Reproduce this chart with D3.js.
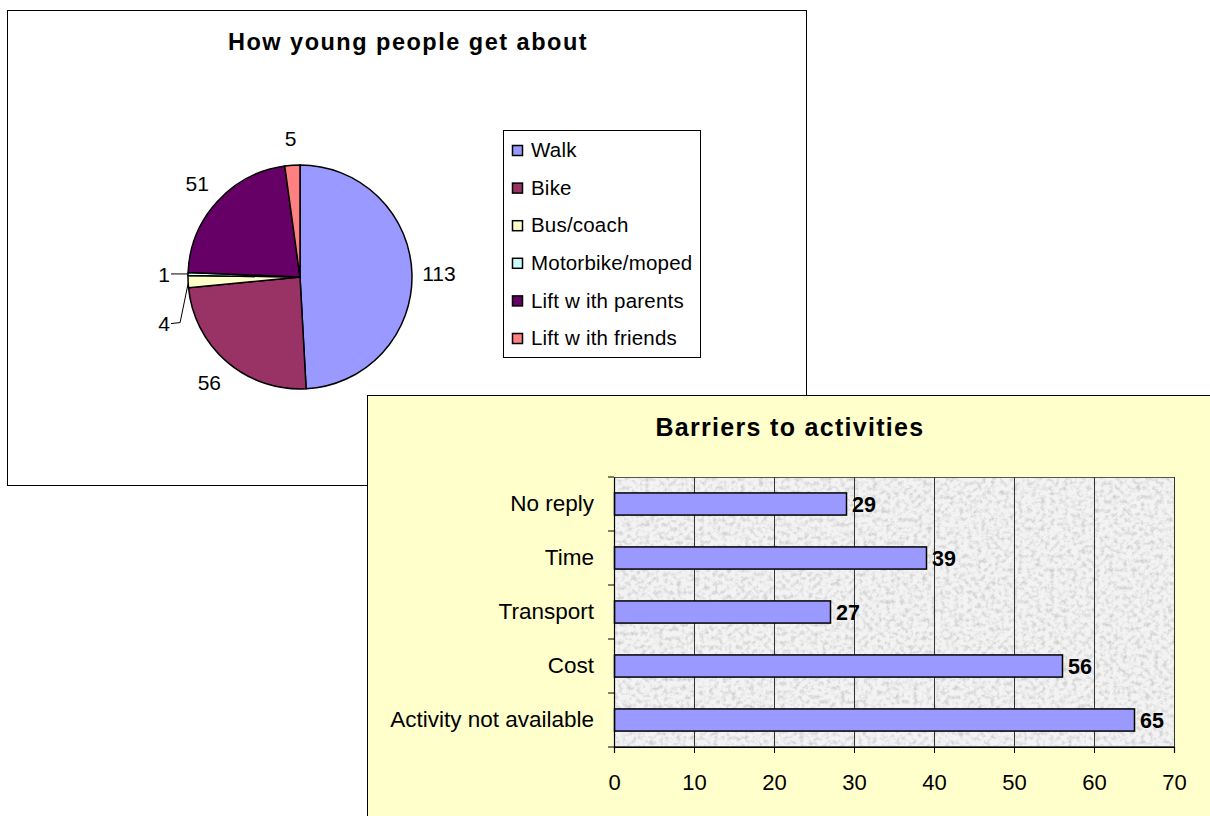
<!DOCTYPE html>
<html>
<head>
<meta charset="utf-8">
<script src="https://cdn.jsdelivr.net/npm/d3@7"></script>
<style>
  body { margin: 0; background: #fff; }
  svg { display: block; font-family: "Liberation Sans", Arial, sans-serif; }
</style>
</head>
<body>
<div id="chart"></div>
<script>
// pie data
var modes = ["Walk", "Bike", "Bus/coach", "Motorbike/moped", "Lift w ith parents", "Lift w ith friends"];
var modeCounts = [113, 56, 4, 1, 51, 5];
var modeColors = ["#9999FF", "#993366", "#FFFFCC", "#CCFFFF", "#660066", "#FF8080"];

// bar data
var barriers = ["No reply", "Time", "Transport", "Cost", "Activity not available"];
var barrierCounts = [29, 39, 27, 56, 65];
var xTicks = [0, 10, 20, 30, 40, 50, 60, 70];

var svg = d3.select("#chart").append("svg")
    .attr("width", 1210)
    .attr("height", 816);

// grainy grey fill for the bar plot area
var defs = svg.append("defs");
var noise = defs.append("filter").attr("id", "grain")
    .attr("x", 0).attr("y", 0).attr("width", 1).attr("height", 1);
noise.append("feTurbulence")
    .attr("type", "fractalNoise")
    .attr("baseFrequency", 0.22)
    .attr("numOctaves", 4)
    .attr("seed", 11);
noise.append("feColorMatrix")
    .attr("type", "matrix")
    .attr("values", "0 0 0 0 0.62  0 0 0 0 0.62  0 0 0 0 0.62  2.4 0 0 0 -1.05");
noise.append("feComposite").attr("in2", "SourceGraphic").attr("operator", "in");

/* ---------- pie panel ---------- */
var pie = svg.append("g").attr("class", "pie-panel");
pie.append("rect")
    .attr("x", 7.5).attr("y", 10.5)
    .attr("width", 799).attr("height", 475)
    .attr("fill", "#fff").attr("stroke", "#000");

pie.append("text")
    .attr("x", 408).attr("y", 50)
    .attr("text-anchor", "middle")
    .attr("font-size", 23.5).attr("font-weight", "bold")
    .attr("letter-spacing", 1.5)
    .text("How young people get about");

var cx = 300, cy = 277, r = 112;
var slices = d3.pie().sort(null)(modeCounts);

var arc = d3.arc().innerRadius(0).outerRadius(r);
var pg = pie.append("g").attr("transform", "translate(" + cx + "," + cy + ")");
pg.selectAll("path.slice")
    .data(slices)
    .enter().append("path")
    .attr("class", "slice")
    .attr("d", arc)
    .attr("fill", function (d, i) { return modeColors[i]; })
    .attr("stroke", "#000")
    .attr("stroke-width", 1.5);

var labelArc = d3.arc().innerRadius(r + 27).outerRadius(r + 27);
slices.forEach(function (d, i) {
    var mid = (d.startAngle + d.endAngle) / 2;
    if (d.value >= 5) {
        var c = labelArc.centroid(d);
        pg.append("text")
            .attr("x", c[0]).attr("y", c[1])
            .attr("dy", "0.35em")
            .attr("text-anchor", "middle")
            .attr("font-size", 21)
            .text(d.value);
    } else {
        // tiny slices: label out to the left with a leader line
        var ex = r * Math.sin(mid), ey = -r * Math.cos(mid);
        var drop = modes[i] === "Bus/coach" ? 41 : 0;
        var lx = -r - 17, ly = ey + drop;
        var pts = drop ? [[ex, ey + 2], [ex - 8, ly], [lx, ly + 1]] : [[ex, ey], [lx, ey]];
        pg.append("path")
            .attr("d", d3.line()(pts))
            .attr("fill", "none").attr("stroke", "#000").attr("stroke-width", 1);
        pg.append("text")
            .attr("x", lx - 1).attr("y", ly + 1)
            .attr("dy", "0.35em")
            .attr("text-anchor", "end")
            .attr("font-size", 21)
            .text(d.value);
    }
});

// legend
var lg = pie.append("g").attr("class", "legend");
lg.append("rect")
    .attr("x", 503.5).attr("y", 130.5)
    .attr("width", 197).attr("height", 227)
    .attr("fill", "#fff").attr("stroke", "#000");
var rows = lg.selectAll("g.row")
    .data(modes)
    .enter().append("g")
    .attr("class", "row")
    .attr("transform", function (d, i) { return "translate(0," + (150 + i * 37.6) + ")"; });
rows.append("rect")
    .attr("x", 512.5).attr("y", -4.5)
    .attr("width", 10).attr("height", 10)
    .attr("fill", function (d, i) { return modeColors[i]; })
    .attr("stroke", "#000").attr("stroke-width", 1.5);
rows.append("text")
    .attr("x", 531).attr("y", 0)
    .attr("dy", "0.35em")
    .attr("font-size", 20.5)
    .attr("letter-spacing", 0.2)
    .text(function (d) { return d; });

/* ---------- bar panel ---------- */
var bp = svg.append("g").attr("class", "bar-panel");
bp.append("rect")
    .attr("x", 367.5).attr("y", 395.5)
    .attr("width", 860).attr("height", 440)
    .attr("fill", "#FFFFCC").attr("stroke", "#000");

bp.append("text")
    .attr("x", 790).attr("y", 436)
    .attr("text-anchor", "middle")
    .attr("font-size", 25).attr("font-weight", "bold")
    .attr("letter-spacing", 1.3)
    .text("Barriers to activities");

var x = d3.scaleLinear().domain([0, 70]).range([614, 1174]);
var y = d3.scaleBand().domain(barriers).range([477, 747])
    .paddingInner(0.59).paddingOuter(0.295);

bp.append("rect")
    .attr("x", x(0)).attr("y", 477)
    .attr("width", x(70) - x(0)).attr("height", 270)
    .attr("fill", "#F3F3F3");
bp.append("rect")
    .attr("x", x(0)).attr("y", 477)
    .attr("width", x(70) - x(0)).attr("height", 270)
    .attr("fill", "#fff")
    .attr("filter", "url(#grain)");
bp.append("rect")
    .attr("x", x(0) + 0.5).attr("y", 477.5)
    .attr("width", x(70) - x(0)).attr("height", 269)
    .attr("fill", "none").attr("stroke", "#555");

bp.append("g").selectAll("line")
    .data(xTicks.slice(1))
    .enter().append("line")
    .attr("x1", function (d) { return Math.round(x(d)) + 0.5; })
    .attr("x2", function (d) { return Math.round(x(d)) + 0.5; })
    .attr("y1", 477).attr("y2", 747)
    .attr("stroke", "#333").attr("stroke-width", 1);

bp.selectAll("rect.bar")
    .data(barrierCounts)
    .enter().append("rect")
    .attr("class", "bar")
    .attr("x", x(0) + 0.5)
    .attr("y", function (d, i) { return y(barriers[i]); })
    .attr("width", function (d) { return x(d) - x(0); })
    .attr("height", y.bandwidth())
    .attr("fill", "#9999FF")
    .attr("stroke", "#000").attr("stroke-width", 1.5);

bp.selectAll("text.val")
    .data(barrierCounts)
    .enter().append("text")
    .attr("class", "val")
    .attr("x", function (d) { return x(d) + 6; })
    .attr("y", function (d, i) { return y(barriers[i]) + y.bandwidth() / 2; })
    .attr("dy", "0.35em")
    .attr("font-size", 21.5).attr("font-weight", "bold")
    .text(function (d) { return d; });

// axes
var xAxis = d3.axisBottom(x).tickValues(xTicks).tickSize(6).tickPadding(21);
var gx = bp.append("g")
    .attr("transform", "translate(0,747)")
    .call(xAxis);
gx.select(".domain").attr("stroke", "#000").attr("stroke-width", 1.2);
gx.selectAll("text").attr("font-size", 22).attr("fill", "#000")
    .attr("font-family", "Liberation Sans, Arial, sans-serif");

var yAxis = d3.axisLeft(y).tickSize(0).tickPadding(20);
var gy = bp.append("g")
    .attr("transform", "translate(" + x(0) + ",0)")
    .call(yAxis);
gy.select(".domain").attr("stroke", "#000").attr("stroke-width", 1.2);
gy.selectAll("text").attr("font-size", 22.5).attr("fill", "#000")
    .attr("font-family", "Liberation Sans, Arial, sans-serif");

// category separator ticks on the y axis
var bandEdges = d3.range(barriers.length + 1).map(function (i) { return 477 + i * y.step(); });
bp.append("g").selectAll("line")
    .data(bandEdges)
    .enter().append("line")
    .attr("x1", x(0) - 6).attr("x2", x(0))
    .attr("y1", function (d) { return d; })
    .attr("y2", function (d) { return d; })
    .attr("stroke", "#000");
</script>
</body>
</html>
